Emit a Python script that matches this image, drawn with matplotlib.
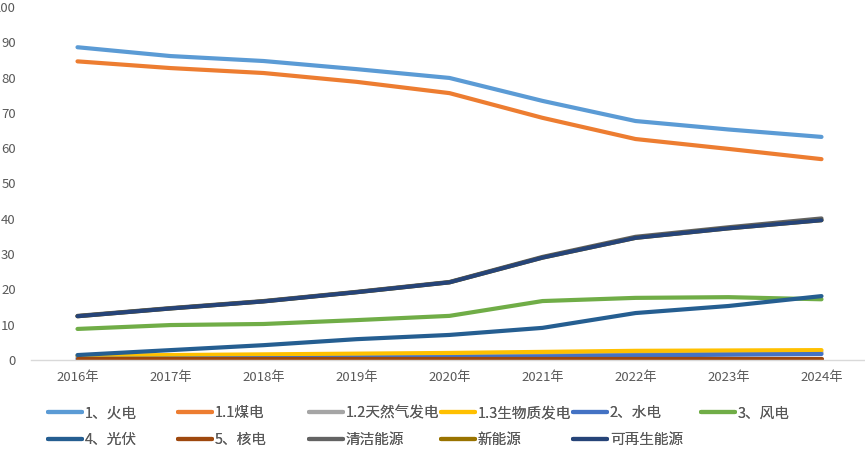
import matplotlib.pyplot as plt

plt.rcParams['font.family'] = ['Noto Sans CJK SC', 'DejaVu Sans']

years = ['2016年', '2017年', '2018年', '2019年', '2020年', '2021年', '2022年', '2023年', '2024年']

thermal = [88.6, 86.1, 84.7, 82.4, 79.9, 73.4, 67.7, 65.3, 63.2]
coal = [84.6, 82.7, 81.3, 78.8, 75.6, 68.6, 62.6, 59.8, 56.9]
gas = [0.8, 0.9, 1.0, 1.2, 1.4, 1.7, 2.0, 2.1, 2.2]
biomass = [1.2, 1.4, 1.6, 1.8, 2.0, 2.3, 2.6, 2.7, 2.8]
hydro = [0.3, 0.4, 0.5, 0.6, 0.8, 1.0, 1.3, 1.5, 1.7]
wind = [8.8, 9.9, 10.2, 11.3, 12.5, 16.7, 17.6, 17.8, 17.2]
solar = [1.4, 2.8, 4.2, 5.9, 7.1, 9.1, 13.3, 15.3, 18.1]
nuclear = [0.4, 0.4, 0.4, 0.4, 0.4, 0.4, 0.4, 0.4, 0.4]
clean = [12.5, 14.7, 16.7, 19.3, 22.1, 29.2, 34.9, 37.6, 40.1]
new_energy = [12.4, 14.6, 16.6, 19.2, 22.0, 29.0, 34.6, 37.3, 39.6]
renewable = [12.4, 14.6, 16.6, 19.2, 22.0, 29.0, 34.6, 37.3, 39.6]

series = [
    ('1、火电', thermal, '#5B9BD5'),
    ('1.1煤电', coal, '#ED7D31'),
    ('1.2天然气发电', gas, '#A5A5A5'),
    ('1.3生物质发电', biomass, '#FFC000'),
    ('2、水电', hydro, '#4472C4'),
    ('3、风电', wind, '#70AD47'),
    ('4、光伏', solar, '#255E91'),
    ('5、核电', nuclear, '#9E480E'),
    ('清洁能源', clean, '#636363'),
    ('新能源', new_energy, '#997300'),
    ('可再生能源', renewable, '#264478'),
]

fig = plt.figure(figsize=(8.65, 4.5), dpi=100)
ax = fig.add_axes([31 / 865, 90 / 450, 837 / 865, 353 / 450])

x = list(range(len(years)))
handles = []
for name, vals, color in series:
    line, = ax.plot(x, vals, color=color, lw=3, solid_capstyle='round', label=name)
    handles.append(line)

ax.set_xlim(-0.5, 8.5)
ax.set_ylim(0, 100)
ax.set_yticks(range(0, 101, 10))
ax.set_xticks(x)
ax.set_xticklabels(years)
ax.tick_params(length=0, labelsize=9.5, colors='#595959')
ax.tick_params(axis='y', pad=11)
ax.tick_params(axis='x', pad=8)
for s in ['top', 'right', 'left']:
    ax.spines[s].set_visible(False)
ax.spines['bottom'].set_color('#D9D9D9')
ax.spines['bottom'].set_linewidth(1)

# legend laid out like Excel: 6 fixed-width columns, two rows
col_x = [44, 174, 305, 437, 569, 697]
for c in range(6):
    idx = [i for i in (c, c + 6) if i < len(series)]
    leg = fig.legend([handles[i] for i in idx], [series[i][0] for i in idx],
                     frameon=False, loc='upper left',
                     bbox_to_anchor=(col_x[c] / 865, 1 - 402 / 450),
                     fontsize=10.5, handlelength=2.3, handletextpad=0.2,
                     labelspacing=0.85, labelcolor='#595959',
                     borderaxespad=0, borderpad=0.3)
    fig.add_artist(leg)

fig.savefig('out.png', dpi=100)
